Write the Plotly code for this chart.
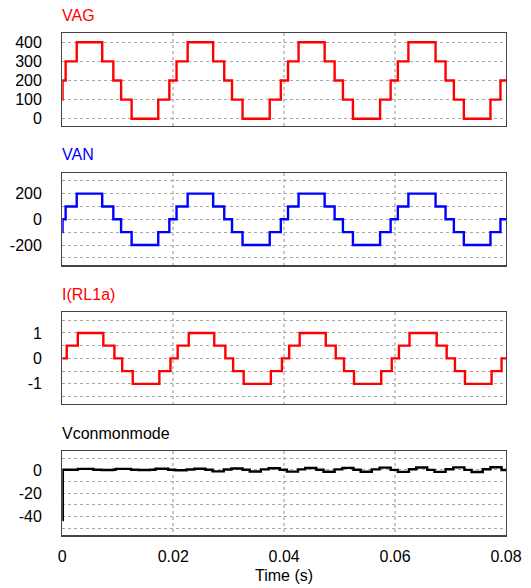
import plotly.graph_objects as go

# ---------------- data (times in ms) ----------------
step_t_ms = [0, 0.05, 0.6, 2.6, 7.2, 9.2, 10.6, 12.5, 17.3, 19.3, 20.6, 22.6, 27.2, 29.2,
             30.6, 32.5, 37.4, 39.4, 40.7, 42.6, 47.3, 49.1, 50.6, 52.4, 57.3, 59.2, 60.5,
             62.4, 67.3, 69.1, 70.6, 72.4, 77.2, 79.0, 80]
vag = [100, 200, 300, 400, 300, 200, 100, 0, 100, 200, 300, 400, 300, 200, 100, 0, 100,
       200, 300, 400, 300, 200, 100, 0, 100, 200, 300, 400, 300, 200, 100, 0, 100, 200, 200]
van = [-100, 0, 100, 200, 100, 0, -100, -200, -100, 0, 100, 200, 100, 0, -100, -200, -100,
       0, 100, 200, 100, 0, -100, -200, -100, 0, 100, 200, 100, 0, -100, -200, -100, 0, 0]

curr_t_ms = [0, 0.8, 2.8, 7.4, 9.4, 10.8, 12.7, 17.5, 19.5, 20.8, 22.8, 27.4, 29.4, 30.8,
             32.7, 37.6, 39.6, 40.9, 42.8, 47.5, 49.3, 50.8, 52.6, 57.5, 59.4, 60.7, 62.6,
             67.5, 69.3, 70.8, 72.6, 77.4, 79.2, 80]
curr = [0, 0.5, 1, 0.5, 0, -0.5, -1, -0.5, 0, 0.5, 1, 0.5, 0, -0.5, -1, -0.5, 0, 0.5, 1,
        0.5, 0, -0.5, -1, -0.5, 0, 0.5, 1, 0.5, 0, -0.5, -1, -0.5, 0, 0]

vcm_t_ms = [0, 0.1,
            2.8, 5.6, 7.1, 9.1,
            9.6, 12.4, 13.8, 15.8,
            16.8, 19.1, 20.4, 22.4,
            23.8, 25.8, 27.1, 29.1,
            30.5, 32.5, 33.8, 35.8,
            37.2, 39.2, 40.5, 42.5,
            43.8, 45.8, 47.1, 49.1,
            50.5, 52.5, 53.8, 55.8,
            57.2, 59.2, 60.5, 62.5,
            63.8, 65.8, 67.1, 69.1,
            70.5, 72.5, 73.8, 75.8,
            77.2, 79.2, 80]
vcm = [-43, 0.2,
       0.9, 0.2, 0.0, 0.2,
       0.9, 0.2, 0.0, 0.2,
       1.0, 0.2, -0.3, 0.4,
       1.1, 0.2, -1.2, 0.4,
       1.3, 0.2, -1.3, 0.5,
       1.5, 0.2, -1.4, 0.5,
       1.7, 0.2, -1.5, 0.5,
       1.8, 0.2, -1.5, 0.5,
       2.0, 0.1, -1.6, 0.6,
       2.1, 0.1, -1.6, 0.6,
       2.2, 0.1, -1.7, 0.6,
       2.3, 0.0, -0.6]

titles = ["VAG", "VAN", "I(RL1a)", "Vconmonmode"]
title_colors = ["#ff0000", "#0000ff", "#ff0000", "#000000"]
x_ticks = [0, 0.02, 0.04, 0.06, 0.08]
x_ticktext = ["0", "0.02", "0.04", "0.06", "0.08"]

y1_ticks = [0, 100, 200, 300, 400]
y1_text = ["0", "100", "200", "300", "400"]
y2_ticks = [-300, -200, -100, 0, 100, 200, 300]
y2_text = ["", "-200", "", "0", "", "200", ""]
y3_ticks = [-1.5, -1, -0.5, 0, 0.5, 1, 1.5]
y3_text = ["", "-1", "", "0", "", "1", ""]
y4_ticks = [-50, -40, -30, -20, -10, 0, 10]
y4_text = ["", "-40", "", "-20", "", "0", ""]

# ---------------- figure ----------------
W, H = 531, 588
FONT = "Liberation Sans, Arial, sans-serif"

panels = [  # top px, bottom px
    (33.3, 126.0),
    (172.7, 265.3),
    (312.3, 404.0),
    (451.3, 535.3),
]
yranges = [[-38, 447], [-358, 363], [-1.79, 1.81], [-56, 16]]
yticks = [(y1_ticks, y1_text), (y2_ticks, y2_text), (y3_ticks, y3_text), (y4_ticks, y4_text)]

series = [
    ([t / 1000 for t in step_t_ms], vag, "#ff0000"),
    ([t / 1000 for t in step_t_ms], van, "#0000ff"),
    ([t / 1000 for t in curr_t_ms], curr, "#ff0000"),
    ([t / 1000 for t in vcm_t_ms], vcm, "#000000"),
]

fig = go.Figure()
xdom = [62.3 / W, 506.0 / W]
layout = dict(
    width=W, height=H, autosize=False,
    margin=dict(l=0, r=0, t=0, b=0, pad=0, autoexpand=False),
    paper_bgcolor="white", plot_bgcolor="white",
    showlegend=False,
    font=dict(family=FONT, size=16, color="#000000"),
)
annotations = []
for i, ((xs, ys, col), (top, bot), yr, (tv, tt)) in enumerate(zip(series, panels, yranges, yticks)):
    n = "" if i == 0 else str(i + 1)
    fig.add_trace(go.Scatter(x=xs, y=ys, mode="lines",
                             line=dict(color=col, width=2.4, shape="hv"),
                             xaxis="x" + n, yaxis="y" + n, hoverinfo="skip"))
    layout["xaxis" + n] = dict(
        domain=xdom, anchor="y" + n, range=[0, 0.08], automargin=False,
        tickmode="array", tickvals=x_ticks, ticktext=x_ticktext,
        showticklabels=(i == 3), ticks="", ticklabelstandoff=6,
        tickfont=dict(family=FONT, size=16, color="#000000"),
        showgrid=True, gridcolor="#c8c8c8", griddash="dot", gridwidth=1.5,
        showline=True, mirror=True, linecolor="#444444", linewidth=1.2,
        zeroline=False, fixedrange=True,
    )
    layout["yaxis" + n] = dict(
        domain=[1 - bot / H, 1 - top / H], anchor="x" + n, range=yr, automargin=False,
        tickmode="array", tickvals=tv, ticktext=tt,
        ticks="", ticklabelstandoff=16,
        tickfont=dict(family=FONT, size=16, color="#000000"),
        showgrid=True, gridcolor="#a8a8a8", griddash="3px,3px", gridwidth=1,
        showline=True, mirror=True, linecolor="#444444", linewidth=1.2,
        zeroline=False, fixedrange=True,
    )
    annotations.append(dict(
        text=titles[i], xref="paper", yref="paper", x=60.0 / W, y=1 - (top - 18) / H,
        xanchor="left", yanchor="middle", showarrow=False,
        font=dict(family=FONT, size=16, color=title_colors[i]),
    ))

annotations.append(dict(
    text="Time (s)", xref="paper", yref="paper", x=284.0 / W, y=1 - 575.0 / H,
    xanchor="center", yanchor="middle", showarrow=False,
    font=dict(family=FONT, size=16, color="#000000"),
))
layout["annotations"] = annotations
fig.update_layout(**layout)
fig.write_html("out.html",
               config={"displayModeBar": False, "staticPlot": True},
               post_script="document.body.style.margin='0';document.body.style.overflow='hidden';")
